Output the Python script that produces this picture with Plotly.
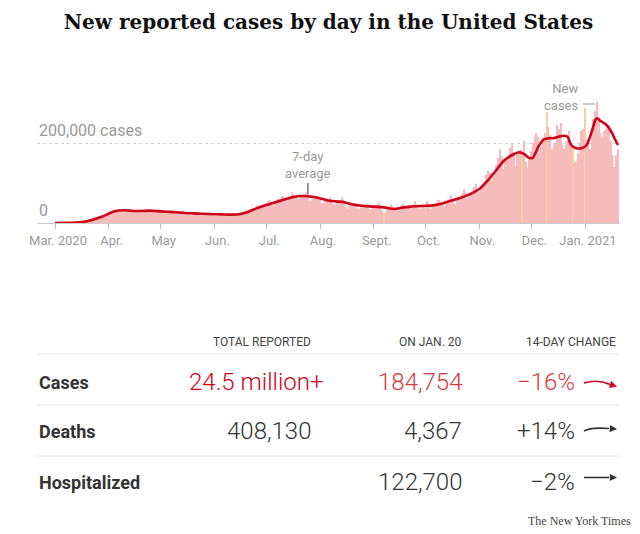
import pandas as pd
import plotly.graph_objects as go

# daily new cases, thousands (Mar 1 2020 .. Jan 20 2021)
mar = [0.01, 0.02, 0.03, 0.05, 0.07, 0.1, 0.1,
       0.1, 0.2, 0.2, 0.3, 0.4, 0.5, 0.6,
       0.8, 1.0, 1.6, 2.5, 4.0, 5.5, 7.0,
       8.0, 10.5, 10.0, 12.0, 17.0, 19.0, 20.0,
       19.0, 21.0, 25.0]
apr = [27, 30, 32, 34,
       27, 29, 31, 32, 34, 35, 31,
       28, 26, 27, 30, 31, 32, 30,
       28, 27, 27, 29, 31, 34, 33,
       27, 25, 26, 29, 31]
may = [34, 30,
       28, 25, 25, 27, 29, 30, 28,
       25, 22, 24, 24, 28, 28, 27,
       23, 21, 22, 23, 27, 25, 24,
       21, 19, 20, 22, 23, 25, 25,
       21]
jun = [19, 20, 21, 22, 24, 23,
       19, 17, 19, 21, 23, 24, 25,
       21, 19, 22, 26, 28, 32, 31,
       27, 28, 34, 37, 40, 44, 43,
       40, 40, 46]
jul = [50, 55, 57, 45,
       44, 50, 56, 62, 60, 68, 66,
       60, 58, 65, 68, 76, 72, 64,
       61, 62, 66, 70, 72, 76, 66,
       55, 56, 62, 68, 68, 68]
aug = [58,
       50, 49, 55, 56, 60, 64, 57,
       46, 47, 52, 55, 54, 64, 56,
       42, 36, 46, 47, 46, 48, 46,
       35, 37, 39, 44, 46, 47, 44,
       34, 36]
sep = [42, 40, 46, 51, 43,
       31, 25, 27, 35, 38, 46, 41,
       34, 33, 39, 40, 45, 48, 43,
       36, 43, 38, 41, 46, 55, 47,
       35, 36, 42, 40]
oct_ = [45, 55, 49,
        35, 42, 44, 50, 57, 58, 48,
        46, 40, 52, 59, 64, 70, 55,
        48, 59, 60, 63, 75, 84, 79,
        61, 67, 74, 79, 90, 98, 84]
nov = [77, 91, 92, 104, 121, 131, 126,
       106, 118, 130, 144, 163, 184, 166,
       135, 159, 162, 170, 188, 196, 177,
       143, 170, 175, 183, 170, 206, 153,
       138, 158]
dec = [180, 200, 215, 225, 215,
       175, 190, 215, 225, 278, 240, 220,
       185, 195, 200, 245, 235, 250, 195,
       185, 195, 205, 230, 200, 190, 150,
       155, 175, 200, 230, 235]
jan = [288, 210,
       200, 185, 235, 260, 280, 303, 265,
       225, 215, 230, 235, 240, 245, 205,
       170, 140, 170, 185]

# days with reporting irregularities (drawn in orange)
highlight_days = ['2020-09-07', '2020-11-26', '2020-12-10', '2020-12-25', '2021-01-01']

# 7-day average, thousands
avg_dates = ['2020-03-01', '2020-03-10', '2020-03-15', '2020-03-20', '2020-03-25', '2020-03-31',
             '2020-04-04', '2020-04-10', '2020-04-15', '2020-04-20', '2020-04-25',
             '2020-05-01', '2020-05-05', '2020-05-10', '2020-05-15', '2020-05-20', '2020-05-25',
             '2020-06-01', '2020-06-05', '2020-06-10', '2020-06-15', '2020-06-20', '2020-06-25',
             '2020-07-01', '2020-07-05', '2020-07-10', '2020-07-15', '2020-07-19', '2020-07-25', '2020-07-30',
             '2020-08-05', '2020-08-10', '2020-08-15', '2020-08-20', '2020-08-25',
             '2020-09-01', '2020-09-07', '2020-09-13', '2020-09-17', '2020-09-22',
             '2020-10-01', '2020-10-05', '2020-10-10', '2020-10-15', '2020-10-20', '2020-10-25',
             '2020-11-01', '2020-11-05', '2020-11-10', '2020-11-15', '2020-11-20', '2020-11-24',
             '2020-11-27', '2020-11-30', '2020-12-02', '2020-12-05', '2020-12-08', '2020-12-11',
             '2020-12-14', '2020-12-17', '2020-12-20', '2020-12-22', '2020-12-24', '2020-12-27',
             '2020-12-30', '2021-01-02', '2021-01-05', '2021-01-07', '2021-01-08', '2021-01-10',
             '2021-01-13', '2021-01-16', '2021-01-18', '2021-01-20']
avg_values = [0.1, 0.4, 1.5, 5, 11, 21,
              29, 32, 30, 30, 31,
              29, 28, 27, 25, 24, 23,
              22, 21.5, 21, 22, 27, 36,
              45, 50, 57, 63, 67, 67, 64,
              57, 54, 52, 46, 43,
              41, 39, 35, 38, 41,
              43, 44, 48, 55, 61, 69,
              85, 102, 128, 155, 170, 177,
              172, 162, 164, 190, 208, 212,
              212, 216, 218, 215, 195, 187,
              187, 195, 230, 258, 262, 255,
              247, 230, 212, 195]

month_ticks = ['2020-03-01', '2020-04-01', '2020-05-01', '2020-06-01', '2020-07-01', '2020-08-01',
               '2020-09-01', '2020-10-01', '2020-11-01', '2020-12-01', '2021-01-01']
month_labels = ['Mar. 2020', 'Apr.', 'May', 'Jun.', 'Jul.', 'Aug.',
                'Sept.', 'Oct.', 'Nov.', 'Dec.', 'Jan. 2021']

# table
row_names = ['Cases', 'Deaths', 'Hospitalized']
col_heads = ['TOTAL REPORTED', 'ON JAN. 20', '14-DAY CHANGE']
totals = ['24.5 million+', '408,130', '']
on_jan20 = ['184,754', '4,367', '122,700']
change_14d = ['\u221216%', '+14%', '\u22122%']

RED = '#d0021b'
RED2 = '#d93a3f'
DARK = '#333333'
GRAY = '#999999'
SANS = 'Roboto, Arial, sans-serif'

# the page body adds an 8px offset, so page pixels are shifted by this much
OFF = 8


def fx(p):
    # page pixel x -> paper
    return (p - 37) / 583


def fy(p):
    # page pixel y -> paper
    return (223 - p) / 138


dates = pd.date_range('2020-03-01', '2021-01-20')
daily = mar + apr + may + jun + jul + aug + sep + oct_ + nov + dec + jan
bar_colors = ['#f9cf9f' if d.strftime('%Y-%m-%d') in highlight_days else '#f6bcbc' for d in dates]

fig = go.Figure()
fig.add_bar(x=dates, y=daily, marker_color=bar_colors, marker_line_width=0, hoverinfo='skip')
fig.add_scatter(x=avg_dates, y=avg_values, mode='lines',
                line=dict(color=RED, width=2.6, shape='spline', smoothing=0.6))

fig.update_layout(
    width=640, height=534,
    margin=dict(l=37 - OFF, r=640 - 620 + OFF, t=85 - OFF, b=534 - 223 + OFF, autoexpand=False),
    plot_bgcolor='white', paper_bgcolor='white',
    showlegend=False, bargap=0.15,
    title=dict(text='<b>New reported cases by day in the United States</b>',
               font=dict(family='DejaVu Serif', size=20, color='#111'),
               x=0.5, xref='paper', xanchor='center',
               y=1 - (22 - OFF) / 534, yref='container', yanchor='middle'),
)
fig.update_xaxes(type='date', range=['2020-02-19 14:38', '2021-01-21 05:00'],
                 tickvals=month_ticks, ticktext=month_labels,
                 ticks='outside', ticklen=5, tickcolor='#bbb',
                 showline=True, linecolor='#ccc', showgrid=False, zeroline=False,
                 tickfont=dict(family=SANS, size=13, color=GRAY), ticklabelshift=3)
fig.update_yaxes(range=[0, 345], tickvals=[200], showticklabels=False,
                 showgrid=True, gridcolor='#cfcfcf', griddash='dot', gridwidth=1,
                 zeroline=False, showline=False)

ann = []
ann.append(dict(x=0, xref='paper', y=200, yref='y', yshift=13, text='200,000 cases',
                showarrow=False, xanchor='left', yanchor='middle',
                font=dict(family=SANS, size=16, color=GRAY)))
ann.append(dict(x=0, xref='paper', y=0, yref='y', yshift=13, text='0',
                showarrow=False, xanchor='left', yanchor='middle',
                font=dict(family=SANS, size=16, color=GRAY)))
ann.append(dict(x='2020-07-25', xref='x', y=fy(165), yref='paper', text='7-day<br>average',
                showarrow=False, xanchor='center', yanchor='middle', align='center',
                font=dict(family=SANS, size=13, color=GRAY)))
ann.append(dict(x=fx(580), xref='paper', y=fy(96.5), yref='paper', text='New<br>cases',
                showarrow=False, xanchor='right', yanchor='middle', align='right',
                font=dict(family=SANS, size=13, color=GRAY)))

shapes = []
shapes.append(dict(type='line', xref='x', yref='y', x0='2020-07-25', x1='2020-07-25',
                   y0=71, y1=100, line=dict(color='#777', width=1.5)))
shapes.append(dict(type='line', xref='paper', yref='paper', x0=fx(583), x1=fx(595),
                   y0=fy(104), y1=fy(104), line=dict(color=GRAY, width=1)))

# table header
head_right = [313, 463.5, 617.5]
for h, xr in zip(col_heads, head_right):
    ann.append(dict(x=fx(xr), xref='paper', y=fy(342), yref='paper', text=h,
                    showarrow=False, xanchor='right', yanchor='middle',
                    font=dict(family=SANS, size=12, color='#444')))

for yline in [354, 405, 456]:
    shapes.append(dict(type='line', xref='paper', yref='paper', x0=fx(37), x1=fx(619),
                       y0=fy(yline), y1=fy(yline), line=dict(color='#e4e4e4', width=1)))

row_y = [382, 431, 482]
for i, name in enumerate(row_names):
    yy = fy(row_y[i])
    c1 = RED if i == 0 else DARK
    c2 = RED2 if i == 0 else DARK
    ann.append(dict(x=fx(37), xref='paper', y=yy, yref='paper', text='<b>%s</b>' % name,
                    showarrow=False, xanchor='left', yanchor='middle',
                    font=dict(family=SANS, size=18, color=DARK)))
    if totals[i]:
        shift = 13 if totals[i].endswith('+') else 0
        ann.append(dict(x=fx(313), xref='paper', y=yy, yref='paper', text=totals[i], xshift=shift,
                        showarrow=False, xanchor='right', yanchor='middle',
                        font=dict(family=SANS, size=24, color=c1, weight=300)))
    ann.append(dict(x=fx(463.5), xref='paper', y=yy, yref='paper', text=on_jan20[i],
                    showarrow=False, xanchor='right', yanchor='middle',
                    font=dict(family=SANS, size=24, color=c2, weight=300)))
    ann.append(dict(x=fx(576.5), xref='paper', y=yy, yref='paper', text=change_14d[i],
                    showarrow=False, xanchor='right', yanchor='middle',
                    font=dict(family=SANS, size=24, color=c2, weight=300)))

# trend arrows (page pixel paths)
arrow_paths = [
    ([(584, 383), (592, 380.5), (602, 381), (610, 384.5)], (617, 386.5), RED),
    ([(584, 431), (589, 428), (597, 427.5), (609, 428.5)], (617, 429), DARK),
    ([(584, 477.5), (597, 477.5), (609, 477.5)], (617, 477.5), DARK),
]
for pts, head, col in arrow_paths:
    p0, p1, p2, p3 = (pts + [pts[-1]])[:4]
    path = 'M %f,%f C %f,%f %f,%f %f,%f' % (fx(p0[0]), fy(p0[1]), fx(p1[0]), fy(p1[1]),
                                           fx(p2[0]), fy(p2[1]), fx(p3[0]), fy(p3[1]))
    shapes.append(dict(type='path', xref='paper', yref='paper', path=path,
                       line=dict(color=col, width=1.6)))
    ann.append(dict(x=fx(head[0]), y=fy(head[1]), xref='paper', yref='paper', text='',
                    showarrow=True, arrowhead=2, arrowsize=0.9, arrowwidth=1.6, arrowcolor=col,
                    ax=p3[0] - head[0], ay=p3[1] - head[1], standoff=0))

ann.append(dict(x=fx(633), xref='paper', y=fy(521), yref='paper', text='The New York Times',
                showarrow=False, xanchor='right', yanchor='middle',
                font=dict(family='Liberation Serif', size=12, color='#444')))

fig.update_layout(annotations=ann, shapes=shapes)
fig.write_html("out.html")
